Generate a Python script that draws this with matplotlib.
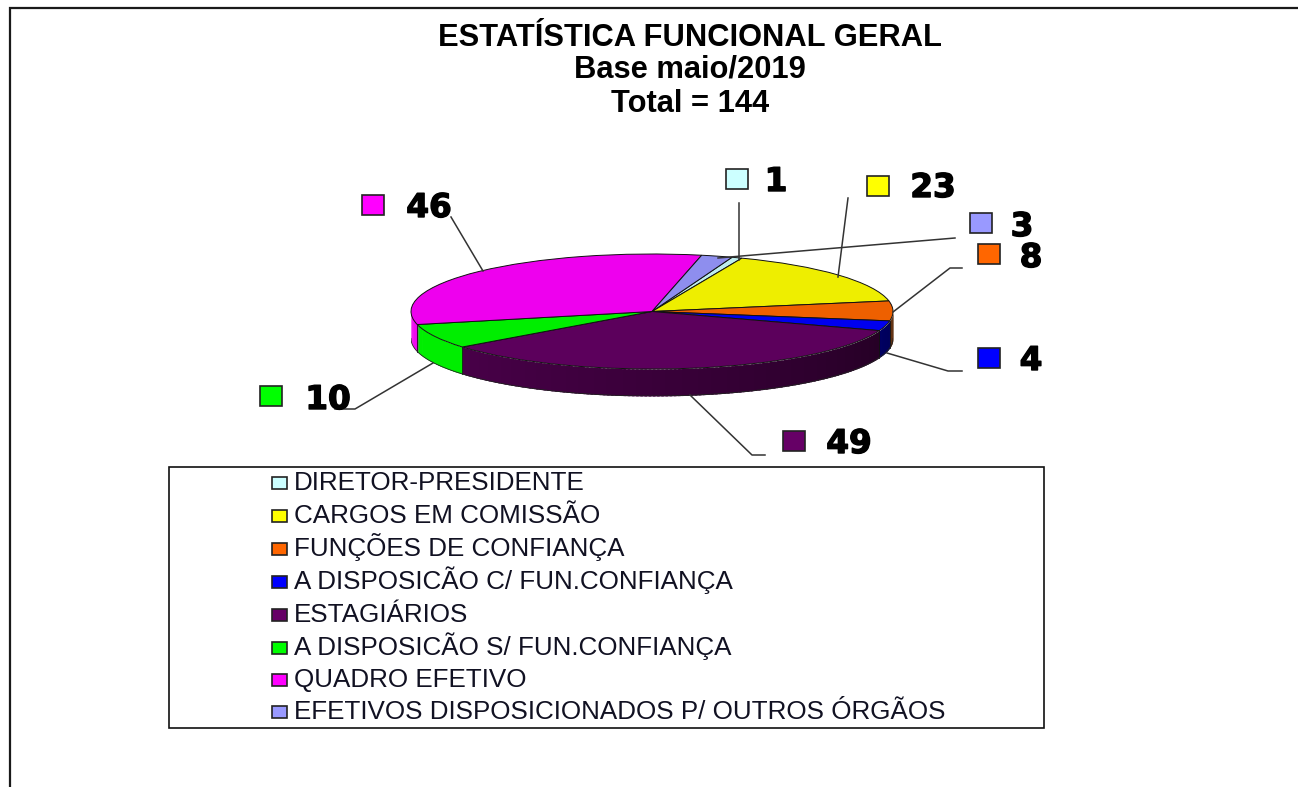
#!/usr/bin/env python3
import numpy as np
import matplotlib
matplotlib.use("Agg")
import matplotlib.pyplot as plt
import matplotlib.patheffects as pe
from matplotlib.patches import Rectangle
from matplotlib.colors import to_rgb

W, H = 1298, 787

# Data
categories = ["DIRETOR-PRESIDENTE", "CARGOS EM COMISSÃO", "FUNÇÕES DE CONFIANÇA",
              "A DISPOSICÃO C/ FUN.CONFIANÇA", "ESTAGIÁRIOS",
              "A DISPOSICÃO S/ FUN.CONFIANÇA", "QUADRO EFETIVO",
              "EFETIVOS DISPOSICIONADOS P/ OUTROS ÓRGÃOS"]
values = [1, 23, 8, 4, 49, 10, 46, 3]
title_lines = ["ESTATÍSTICA FUNCIONAL GERAL", "Base maio/2019", "Total = 144"]

# Colours
legend_colors = ["#CCFFFF", "#FFFF00", "#FF6600", "#0000FF", "#660066", "#00FF00", "#FF00FF", "#9999FF"]
top_colors = ["#BEEEEE", "#EEEE00", "#EE6000", "#0000EE", "#5C005C", "#00EE00", "#EE00EE", "#8E8EEE"]

# Layout in pixels
pie_box = (411, 254, 893, 369)
depth = 27
first_angle = 19.4  # clockwise from top
title_base = [46, 78, 112]
key_pos = [(737, 179), (878, 186), (989, 254), (989, 358), (794, 441), (271, 396), (373, 205), (981, 223)]
num_pos = [(776, 179), (933, 185), (1031, 255), (1031, 358), (849, 441), (328, 397), (429, 205), (1022, 224)]
leaders = [
    [(739, 203), (739, 260)],
    [(848, 198), (838, 277)],
    [(962, 268), (950, 268), (893, 312)],
    [(962, 371), (948, 371), (887, 353)],
    [(765, 455), (752, 455), (690, 395)],
    [(335, 409), (355, 409), (433, 363)],
    [(451, 217), (483, 271)],
    [(955, 238), (718, 258)],
]
legend_box = (169, 467, 1044, 728)
legend_y = [481, 514, 547, 580, 613, 646, 678, 710]

plt.rcParams["font.family"] = ["Liberation Sans", "DejaVu Sans"]
fig = plt.figure(figsize=(W / 100, H / 100), dpi=100, facecolor="white")

# Overlay in pixel coords for frame, text, legend
ov = fig.add_axes([0, 0, 1, 1], zorder=3)
ov.set_xlim(0, W)
ov.set_ylim(H, 0)
ov.axis("off")
ov.patch.set_alpha(0)

# Pie axes spans the ellipse plus the wall below it
x0, y0, x1, y1 = pie_box
ry = (y1 - y0) / 2
ax = fig.add_axes([x0 / W, 1 - (y1 + depth) / H, (x1 - x0) / W, (y1 + depth - y0) / H], zorder=2)
ax.pie(values, colors=top_colors, startangle=90 - first_angle, counterclock=False,
       wedgeprops={"edgecolor": "#111111", "linewidth": 0.7, "zorder": 3})
ax.set_aspect("auto")
ax.set_xlim(-1, 1)
ax.set_ylim(-1 - depth / ry, 1)
ax.axis("off")

# Side wall of the pie, shaded left (lighter) to right (darker)
edges = first_angle + np.cumsum([0] + values) * 360 / sum(values)
d = depth / ry
for i in range(len(values)):
    lo, hi = max(edges[i], 90), min(edges[i + 1], 270)
    if lo >= hi:
        continue
    flat = top_colors[i] in ("#00EE00", "#EE00EE")
    th = np.arange(hi, lo - 1, -1.0).clip(lo, hi)
    # walk from the left end so each strip overlaps the previous one
    for t1, t0 in zip(th[:-1], th[1:]):
        t = np.radians(np.linspace(t0 - 0.6 if t0 > lo else t0, t1, 4))
        shade = 0.35 + 0.55 * (((t0 + t1) / 2 - 90) / 180)
        col = to_rgb(top_colors[i]) if flat else tuple(c * shade for c in to_rgb(top_colors[i]))
        ax.fill_between(np.sin(t), np.cos(t), np.cos(t) - d, color=col, linewidth=0, zorder=1)
    if lo > 90:
        x, y = np.sin(np.radians(lo)), np.cos(np.radians(lo))
        ax.plot([x, x], [y, y - d], color="#111111", lw=0.6, zorder=2)
th = np.radians(np.linspace(90, 270, 200))
ax.plot(np.sin(th), np.cos(th) - d, color="#222222", lw=0.6, zorder=2)

# Outer frame
ov.plot([10, 10, W], [H, 8, 8], color="#1a1a1a", lw=1.6, solid_joinstyle="miter")

# Title
for line, y in zip(title_lines, title_base):
    ov.text(690, y, line, ha="center", va="baseline", fontsize=22.2, fontweight="bold", color="black")

# Leader lines
for pts in leaders:
    ov.plot([p[0] for p in pts], [p[1] for p in pts], color="#333333", lw=1.1)

# Data keys and numbers
for i, (kx, ky) in enumerate(key_pos):
    ov.add_patch(Rectangle((kx - 11, ky - 10), 22, 20, facecolor=legend_colors[i],
                           edgecolor="#222222", lw=1.2))
    nx, ny = num_pos[i]
    ov.text(nx, ny + 12, str(values[i]), ha="center", va="baseline", fontsize=23.5, fontweight="bold",
            family=["DejaVu Sans"], color="black",
            path_effects=[pe.withStroke(linewidth=1.0, foreground="black")])

# Legend box
lx0, ly0, lx1, ly1 = legend_box
ov.add_patch(Rectangle((lx0, ly0), lx1 - lx0, ly1 - ly0, facecolor="white", edgecolor="#111111", lw=1.2))
for name, col, y in zip(categories, legend_colors, legend_y):
    ov.add_patch(Rectangle((272, y - 4), 15, 12, facecolor=col, edgecolor="#222222", lw=1.2))
    ov.text(294, y + 9, name, ha="left", va="baseline", fontsize=18.7, color="#111122")

fig.savefig("out.png", dpi=100)
